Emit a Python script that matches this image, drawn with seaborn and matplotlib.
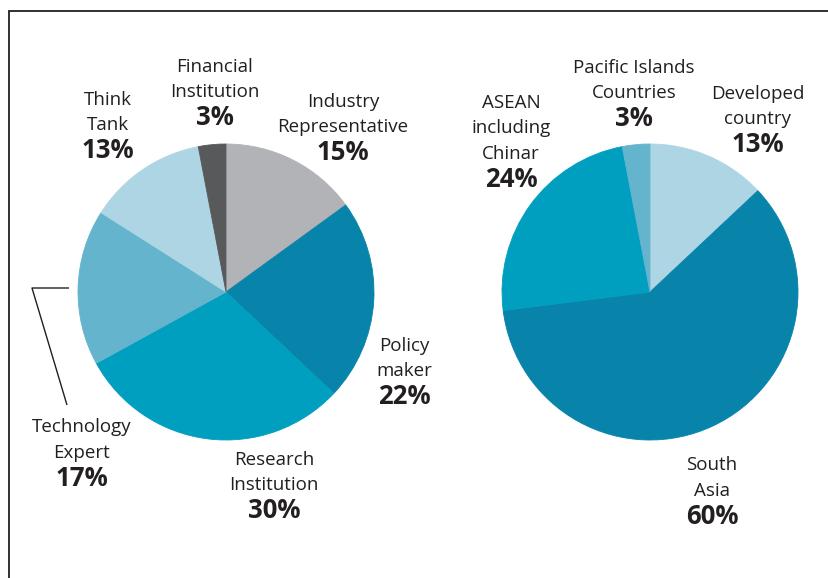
import matplotlib
matplotlib.use("Agg")
import matplotlib.pyplot as plt
import seaborn as sns

# Stakeholder type shares (left pie), clockwise from 12 o'clock
left_labels = ["Industry\nRepresentative", "Policy\nmaker", "Research\nInstitution",
               "Technology\nExpert", "Think\nTank", "Financial\nInstitution"]
left_values = [15, 22, 30, 17, 13, 3]

# Regional shares (right pie), clockwise from 12 o'clock
right_labels = ["Developed\ncountry", "South\nAsia", "ASEAN\nincluding\nChinar",
                "Pacific Islands\nCountries"]
right_values = [13, 60, 24, 3]

GREY = "#b1b3b6"
DARK_TEAL = "#0883a9"
TEAL = "#009fbf"
MID_BLUE = "#64b4ce"
PALE_BLUE = "#aed5e4"
CHARCOAL = "#58595b"

left_colors = [GREY, DARK_TEAL, TEAL, MID_BLUE, PALE_BLUE, CHARCOAL]
right_colors = [PALE_BLUE, DARK_TEAL, TEAL, MID_BLUE]

sns.set_theme(style="white")
plt.rcParams["font.family"] = ["Open Sans", "DejaVu Sans"]

W, H = 829, 578
fig = plt.figure(figsize=(W / 100, H / 100), dpi=100)
ax = fig.add_axes([0, 0, 1, 1])


def draw_pie(values, colors, cx, cy, r):
    wedges, _ = ax.pie(values, colors=colors, startangle=90, counterclock=False,
                       center=(cx, cy), radius=r, frame=True,
                       wedgeprops=dict(linewidth=0.6))
    for w in wedges:
        w.set_edgecolor(w.get_facecolor())


draw_pie(left_values, left_colors, 226, H - 292, 148)
draw_pie(right_values, right_colors, 650, H - 292, 148)
ax.set_xlim(0, W)
ax.set_ylim(0, H)
ax.set_aspect("equal")
ax.axis("off")

STEP = 25.5


def label(text, value, x, y_top):
    lines = text.split("\n")
    for i, ln in enumerate(lines):
        ax.text(x, H - (y_top + i * STEP), ln, ha="center", va="center",
                fontsize=13.5, color="#231f20")
    ax.text(x, H - (y_top + len(lines) * STEP), f"{value}%", ha="center",
            va="center", fontsize=18.5, fontweight="bold", color="#231f20")


left_pos = [(343, 102), (404, 346), (274, 460), (82, 427), (108, 100), (215, 67)]
right_pos = [(758, 94), (712, 465), (511, 103), (634, 68)]

for t, v, (x, y) in zip(left_labels, left_values, left_pos):
    label(t, v, x, y)
for t, v, (x, y) in zip(right_labels, right_values, right_pos):
    label(t, v, x, y)

# leader line for the technology expert label
ax.plot([69, 32, 67], [H - 288, H - 288, H - 405], color="#231f20", lw=1.0,
        solid_capstyle="butt")

# frame on the top and left
ax.plot([9, 9, W], [0, H - 11, H - 11], color="#231f20", lw=1.3,
        solid_joinstyle="miter")

fig.savefig("out.png", dpi=100, facecolor="white")
